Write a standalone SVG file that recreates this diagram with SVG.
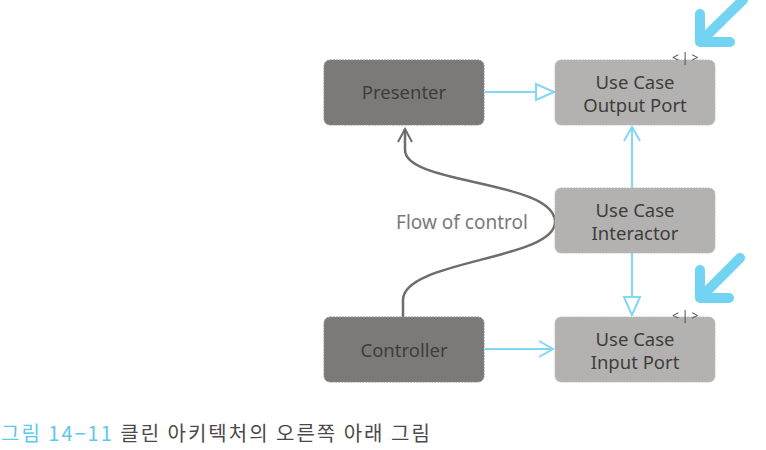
<svg xmlns="http://www.w3.org/2000/svg" width="766" height="450" viewBox="0 0 766 450">
<defs>
<style>
.dark{fill:#7b7a79;stroke:#8a8988;stroke-width:1;stroke-dasharray:2 1}
.light{fill:#b3b2b1;stroke:#bdbcbb;stroke-width:1;stroke-dasharray:2 1}
.lbl{font-family:"Noto Sans","Noto Sans CJK KR",sans-serif;font-size:18.5px;fill:#3e3d3c;text-anchor:middle}
.cy{fill:none;stroke:#80d8f2;stroke-width:2}
.big{fill:none;stroke:#72d4f2;stroke-width:10;stroke-linecap:round;stroke-linejoin:round}
.iface{font-family:"Noto Sans",sans-serif;font-size:12px;fill:#444;letter-spacing:3px}
</style>
<marker id="tri" viewBox="0 0 20 20" refX="19" refY="10" markerWidth="20" markerHeight="20" markerUnits="userSpaceOnUse" orient="auto">
<path d="M1,2 L19,10 L1,18 Z" fill="#fff" stroke="#80d8f2" stroke-width="2"/>
</marker>
<marker id="chev" viewBox="0 0 20 20" refX="18" refY="10" markerWidth="20" markerHeight="20" markerUnits="userSpaceOnUse" orient="auto">
<path d="M4,2 L18,10 L4,18" fill="none" stroke="#80d8f2" stroke-width="2"/>
</marker>
<marker id="gchev" viewBox="0 0 20 20" refX="18" refY="10" markerWidth="20" markerHeight="20" markerUnits="userSpaceOnUse" orient="auto">
<path d="M5,3 L18,10 L5,17" fill="none" stroke="#6e6d6c" stroke-width="2"/>
</marker>
</defs>
<rect width="766" height="450" fill="#fff"/>
<g id="connectors">
<line class="cy" x1="485" y1="92" x2="554" y2="92" marker-end="url(#tri)"/>
<line class="cy" x1="485" y1="349" x2="553" y2="349" marker-end="url(#chev)"/>
<line class="cy" x1="632" y1="188" x2="632" y2="127" marker-end="url(#chev)"/>
<line class="cy" x1="632" y1="253" x2="632" y2="315" marker-end="url(#tri)"/>
<path d="M403,317 L403,300 C403,260 555,260 555,222 C555,180 405,185 405,150 L405,129" fill="none" stroke="#6e6d6c" stroke-width="2.5" marker-end="url(#gchev)"/>
<text x="462" y="229" font-family="Noto Sans, sans-serif" font-size="19" fill="#7a7978" text-anchor="middle">Flow of control</text>
</g>
<g id="presenter">
<rect class="dark" x="324" y="60" width="160" height="65" rx="6"/>
<text class="lbl" x="404" y="99">Presenter</text>
</g>
<g id="output-port">
<rect class="light" x="555" y="60" width="160" height="65" rx="6"/>
<text class="lbl" x="635" y="89">Use Case</text>
<text class="lbl" x="635" y="112">Output Port</text>
<text class="iface" x="672" y="62">&lt;|&gt;</text>
</g>
<g id="interactor">
<rect class="light" x="555" y="188" width="160" height="65" rx="6"/>
<text class="lbl" x="635" y="217">Use Case</text>
<text class="lbl" x="635" y="240">Interactor</text>
</g>
<g id="input-port">
<rect class="light" x="555" y="317" width="160" height="65" rx="6"/>
<text class="lbl" x="635" y="346">Use Case</text>
<text class="lbl" x="635" y="369">Input Port</text>
<text class="iface" x="672" y="320">&lt;|&gt;</text>
</g>
<g id="controller">
<rect class="dark" x="324" y="317" width="160" height="65" rx="6"/>
<text class="lbl" x="404" y="357">Controller</text>
</g>
<g id="highlight-arrows">
<path class="big" d="M743,0 L702,40 M700,14 L700,42 L730,42"/>
<path class="big" d="M740,258 L702,296 M700,270 L700,298 L729,298"/>
</g>
<text x="1" y="441" font-family="Noto Sans CJK KR, sans-serif" font-size="20" letter-spacing="2"><tspan fill="#5cc8ee">그림 14−11</tspan><tspan fill="#4a4948"> 클린 아키텍처의 오른쪽 아래 그림</tspan></text>
</svg>
